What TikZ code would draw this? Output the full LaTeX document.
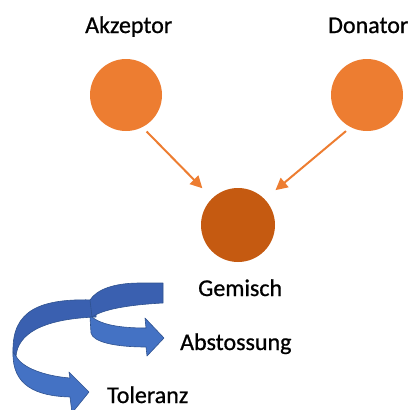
\documentclass[tikz,border=0pt]{standalone}
\usepackage{fontspec}
\setmainfont{Carlito}
\newfontfamily\lblfont{Carlito}[FakeBold=0.8]
\usetikzlibrary{arrows.meta}
\definecolor{orangeA}{HTML}{ED7D31}
\definecolor{orangeB}{HTML}{C55A11}
\definecolor{blueDark}{RGB}{58,96,176}
\definecolor{blueLight}{RGB}{68,114,196}
\definecolor{blueLine}{RGB}{47,82,143}
\tikzset{
  ball/.style={circle, minimum size=72pt, inner sep=0pt, fill=orangeA, draw=none},
  lbl/.style={anchor=base west, inner sep=0pt, font=\lblfont\fontsize{24}{28}\selectfont},
  conn/.style={draw=orangeA, line width=2pt, -{Triangle[length=12pt,width=12pt]}},
  ribbonDark/.style={fill=blueDark, draw=blueLine, line width=0.6pt, line join=round},
  ribbonLight/.style={fill=blueLight, draw=blueLine, line width=0.6pt, line join=round}
}
\begin{document}
\begin{tikzpicture}[x=1pt,y=-1pt]
\useasboundingbox (0,0) rectangle (413,410);
% circles
\node[ball] (akz) at (126,95) {};
\node[ball] (don) at (367,95) {};
\node[ball, fill=orangeB, minimum size=74pt] (gem) at (238,225) {};
% labels
\node[lbl] (takz) at (85,33) {Akzeptor};
\node[lbl] (tdon) at (328,33) {Donator};
\node[lbl] (tgem) at (198,296) {Gemisch};
\node[lbl] (tabs) at (180,350) {Abstossung};
\node[lbl] (ttol) at (107,403) {Toleranz};
% connectors
\draw[conn, shorten <=6pt, shorten >=14pt] (akz.-63) -- (gem.134);
\draw[conn, shorten <=6pt, shorten >=14pt] (don.243) -- (gem.44);
% lower ribbon (behind)
\path[ribbonDark] (96,300) .. controls (40,298) and (12,310) .. (13,352)
  -- (16,356) .. controls (18,335) and (40,319) .. (96,317) -- cycle;
\path[ribbonLight] (13,352) .. controls (12,385) and (35,396) .. (70,397)
  -- (72,413) -- (89,392) -- (69,372) -- (70,378)
  .. controls (45,376) and (22,368) .. (16,356) -- cycle;
% upper ribbon (front)
\path[ribbonDark] (163,283) -- (163,303) .. controls (125,305) and (102,310) .. (92,317)
  -- (90,300) .. controls (97,289) and (115,283) .. (140,283) -- cycle;
\path[ribbonLight] (92,317) .. controls (103,326) and (125,328) .. (146,328)
  -- (145,318) -- (164,338) -- (147,356) -- (146,347)
  .. controls (115,347) and (93,342) .. (91,333) -- (90,317) -- cycle;
\end{tikzpicture}
\end{document}
